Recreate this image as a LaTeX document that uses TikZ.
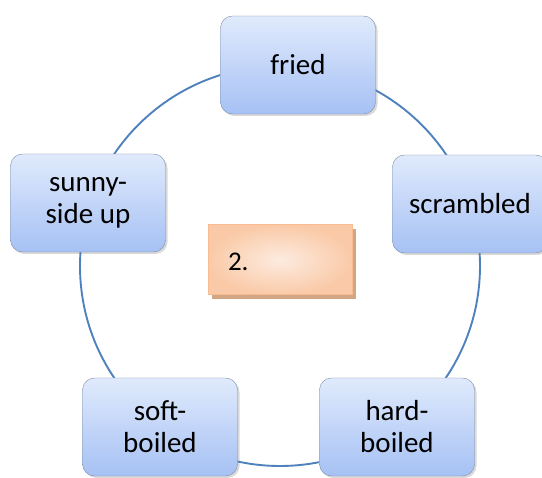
\documentclass[tikz,border=0pt]{standalone}
\usepackage{fontspec}
\setmainfont{Carlito}
\usepackage{tikz}
\usetikzlibrary{shadows}
\definecolor{ringblue}{HTML}{4F81BD}
\definecolor{boxtop}{HTML}{E0EAFC}
\definecolor{boxbot}{HTML}{A6C1F4}
\definecolor{boxline}{HTML}{7B8CA6}
\definecolor{peach}{HTML}{FDEBDF}
\definecolor{apricot}{HTML}{F8BC90}
\definecolor{tan}{HTML}{D2A584}
\tikzset{
  eggbox/.style = {draw=boxline, rounded corners=12pt, top color=boxtop,
                   bottom color=boxbot, minimum width=155pt, minimum height=98pt,
                   align=center, font=\fontsize{29}{32}\selectfont,
                   drop shadow={opacity=0.3, shadow xshift=2pt, shadow yshift=-2pt}},
  numbox/.style = {draw=apricot, line width=1pt, inner color=peach,
                   outer color=apricot!70!peach,
                   minimum width=144pt, minimum height=70pt,
                   drop shadow={fill=tan, opacity=1,
                                shadow xshift=4pt, shadow yshift=-4pt}},
  ring/.style   = {ringblue, line width=1.9pt}
}

\begin{document}
\begin{tikzpicture}[x=1pt,y=-1pt]
  \useasboundingbox (0,0) rectangle (542,478);
  \coordinate (hub) at (280,266);
  \draw[ring] (hub) circle (200pt);
  % the five ways of cooking round the ring
  \node[eggbox] (fried)     at (298,65)  {fried};
  \node[eggbox] (scrambled) at (470,204) {scrambled};
  \node[eggbox] (sunny)     at (88,203)  {sunny-\\side up};
  \node[eggbox] (soft)      at (160,427) {soft-\\boiled};
  \node[eggbox] (hard)      at (397,427) {hard-\\boiled};
  % numbered box in the middle
  \node[numbox] (step) at (280,260) {};
  \node[anchor=west, font=\fontsize{27}{30}\selectfont] (steplabel)
       at ([xshift=17pt,yshift=-2pt]step.west) {2.};
\end{tikzpicture}
\end{document}
